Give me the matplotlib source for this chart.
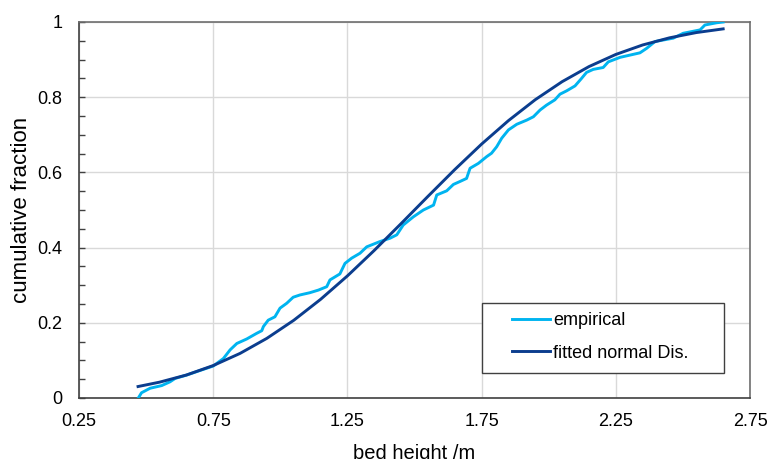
import matplotlib
matplotlib.use("Agg")
import matplotlib.pyplot as plt
from matplotlib.patches import Rectangle
from matplotlib.ticker import MultipleLocator

plt.rcParams['font.family'] = ['Liberation Sans', 'DejaVu Sans']

# Empirical cumulative distribution of bed height
emp_height = [0.471, 0.483, 0.515, 0.558, 0.589, 0.608, 0.651, 0.700, 0.750, 0.788,
              0.813, 0.838, 0.875, 0.912, 0.931, 0.937, 0.955, 0.980, 0.999, 1.024,
              1.048, 1.073, 1.110, 1.142, 1.173, 1.185, 1.222, 1.241, 1.266, 1.297,
              1.322, 1.371, 1.409, 1.434, 1.458, 1.496, 1.533, 1.571, 1.583, 1.620,
              1.645, 1.670, 1.694, 1.707, 1.738, 1.769, 1.787, 1.806, 1.825, 1.850,
              1.881, 1.918, 1.943, 1.968, 1.992, 2.023, 2.042, 2.067, 2.098, 2.120,
              2.141, 2.166, 2.203, 2.222, 2.266, 2.340, 2.365, 2.396, 2.464, 2.501,
              2.564, 2.582, 2.626, 2.650]
emp_frac = [0.000, 0.014, 0.026, 0.033, 0.043, 0.052, 0.061, 0.073, 0.085, 0.105,
            0.128, 0.145, 0.157, 0.172, 0.179, 0.190, 0.207, 0.216, 0.239, 0.252,
            0.268, 0.274, 0.280, 0.287, 0.296, 0.314, 0.330, 0.358, 0.372, 0.385,
            0.402, 0.416, 0.425, 0.434, 0.460, 0.482, 0.500, 0.513, 0.540, 0.551,
            0.568, 0.576, 0.584, 0.611, 0.624, 0.642, 0.651, 0.668, 0.691, 0.713,
            0.728, 0.739, 0.748, 0.766, 0.779, 0.793, 0.808, 0.817, 0.830, 0.848,
            0.866, 0.874, 0.879, 0.894, 0.906, 0.918, 0.930, 0.948, 0.957, 0.970,
            0.979, 0.992, 0.998, 1.000]

# Fitted normal distribution (cumulative)
fit_height = [0.47, 0.55, 0.65, 0.75, 0.85, 0.95, 1.05, 1.15, 1.25, 1.35, 1.45, 1.55,
              1.65, 1.75, 1.85, 1.95, 2.05, 2.15, 2.25, 2.35, 2.45, 2.55, 2.65]
fit_frac = [0.0305, 0.0421, 0.0611, 0.0863, 0.1186, 0.1587, 0.2066, 0.2623, 0.3247,
            0.3925, 0.4638, 0.5362, 0.6075, 0.6753, 0.7377, 0.7934, 0.8413, 0.8814,
            0.9137, 0.9389, 0.9579, 0.9719, 0.9817]

x_ticks = [0.25, 0.75, 1.25, 1.75, 2.25, 2.75]
x_tick_labels = ['0.25', '0.75', '1.25', '1.75', '2.25', '2.75']
y_ticks = [0, 0.2, 0.4, 0.6, 0.8, 1.0]
y_tick_labels = ['0', '0.2', '0.4', '0.6', '0.8', '1']

fig = plt.figure(figsize=(7.7, 4.59), dpi=100)
ax = fig.add_axes([79 / 770, 61 / 459, 671 / 770, 376 / 459])

ax.plot(emp_height, emp_frac, color='#00B4F0', lw=2.1, label='empirical', zorder=3,
        solid_joinstyle='round')
ax.plot(fit_height, fit_frac, color='#0B3D8E', lw=2.1, label='fitted normal Dis.', zorder=4)

ax.set_xlim(0.25, 2.75)
ax.set_ylim(0, 1)
ax.set_xticks(x_ticks)
ax.set_xticklabels(x_tick_labels)
ax.set_yticks(y_ticks)
ax.set_yticklabels(y_tick_labels)
ax.yaxis.set_minor_locator(MultipleLocator(0.05))

ax.grid(True, which='major', color='#D9D9D9', lw=1.0)
ax.set_axisbelow(True)

ax.tick_params(axis='x', which='both', length=0, labelsize=13, pad=11, colors='black')
ax.tick_params(axis='y', which='major', direction='in', length=4, width=1,
               labelsize=13, pad=12, colors='#404040', labelcolor='black')
ax.tick_params(axis='y', which='minor', direction='in', length=4, width=1, colors='#404040')

for side in ['left', 'bottom']:
    ax.spines[side].set_color('#404040')
    ax.spines[side].set_linewidth(1.2)
for side in ['top', 'right']:
    ax.spines[side].set_color('#6E6E6E')
    ax.spines[side].set_linewidth(1.2)

ax.set_xlabel('bed height /m', fontsize=14.5, labelpad=10)
ax.set_ylabel('cumulative fraction', fontsize=16, labelpad=4)

# Legend box with wide padding
ax.add_patch(Rectangle(((482 - 79) / 671, (398 - 373) / 376), 242 / 671, 70 / 376,
                       transform=ax.transAxes, facecolor='white', edgecolor='#404040',
                       lw=1.0, zorder=5))
leg = ax.legend(loc='center left', bbox_to_anchor=((512 - 79) / 671, (398 - 337) / 376),
                frameon=False, fontsize=13, handlelength=2.1, handletextpad=0.17,
                labelspacing=0.85, borderpad=0, borderaxespad=0)
leg.set_zorder(6)

fig.savefig('out.png', dpi=100)
